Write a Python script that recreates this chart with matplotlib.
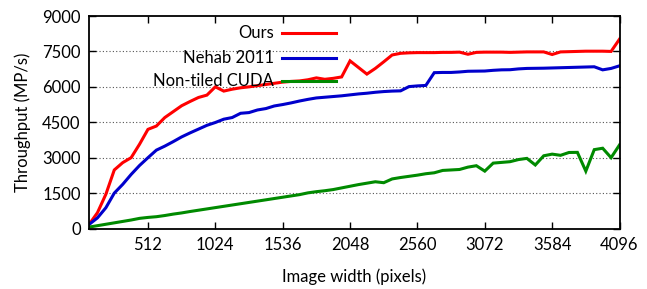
import matplotlib
matplotlib.use('Agg')
import matplotlib.pyplot as plt
import numpy as np

plt.rcParams['font.family'] = ['Lato', 'DejaVu Sans']

# image widths (pixels)
widths = list(range(64, 4097, 64))

ours = [170, 670, 1450, 2480, 2790, 3000, 3570, 4200, 4340, 4700,
        4950, 5200, 5380, 5550, 5650, 6000, 5820, 5900, 5960, 6000,
        6050, 6100, 6150, 6200, 6230, 6250, 6300, 6380, 6320, 6360,
        6420, 7100, 6820, 6540, 6780, 7060, 7350, 7420, 7440, 7450,
        7450, 7450, 7460, 7460, 7470, 7380, 7460, 7470, 7470, 7470,
        7460, 7470, 7480, 7480, 7480, 7370, 7480, 7490, 7500, 7510,
        7510, 7510, 7500, 8020]

nehab = [170, 450, 880, 1500, 1870, 2290, 2670, 3000, 3320, 3490,
         3680, 3880, 4050, 4210, 4370, 4490, 4630, 4700, 4880, 4910,
         5020, 5080, 5190, 5250, 5320, 5400, 5470, 5530, 5560, 5590,
         5620, 5660, 5700, 5730, 5770, 5800, 5820, 5830, 6010, 6040,
         6060, 6600, 6610, 6610, 6630, 6660, 6665, 6670, 6700, 6720,
         6725, 6760, 6780, 6785, 6790, 6800, 6810, 6820, 6830, 6840,
         6850, 6720, 6780, 6890]

nontiled = [60, 120, 180, 240, 300, 360, 430, 470, 500, 550,
            610, 660, 720, 775, 830, 885, 940, 995, 1050, 1105,
            1160, 1215, 1270, 1325, 1380, 1435, 1510, 1560, 1600, 1650,
            1720, 1790, 1860, 1920, 1980, 1940, 2100, 2160, 2210, 2260,
            2320, 2360, 2460, 2480, 2500, 2600, 2660, 2430, 2770, 2800,
            2830, 2920, 2970, 2690, 3080, 3150, 3100, 3220, 3225, 2430,
            3340, 3400, 3000, 3540]

labels = ['Ours', 'Nehab 2011', 'Non-tiled CUDA']
colors = ['#ff0000', '#0000cc', '#008a00']
xticks = [512, 1024, 1536, 2048, 2560, 3072, 3584, 4096]
yticks = [0, 1500, 3000, 4500, 6000, 7500, 9000]

fig = plt.figure(figsize=(6.47, 2.89), dpi=100, facecolor='w')
ax = fig.add_axes([0.1376, 0.2093, 0.8199, 0.7353])

for ys, c in zip([ours, nehab, nontiled], colors):
    ax.plot(widths, ys, color=c, lw=2.2, solid_joinstyle='miter')

ax.set_xlim(64, 4096)
ax.set_ylim(0, 9000)
ax.set_xticks(xticks)
ax.set_yticks(yticks)
ax.tick_params(direction='in', top=True, right=True, length=5, width=1,
               labelsize=12, pad=6)
for s in ax.spines.values():
    s.set_linewidth(1.3)

for y in yticks[1:-1]:
    ax.axhline(y, color='#555555', lw=0.8, ls=(0, (1, 2)), zorder=0)

ax.set_xlabel('Image width (pixels)', fontsize=12, labelpad=11)
ax.set_ylabel('Throughput (MP/s)', fontsize=12, labelpad=8)

# gnuplot-style key: text on the left, line on the right
key_y = [0.92, 0.802, 0.694]
for l, c, ky in zip(labels, colors, key_y):
    ax.text(0.348, ky, l, transform=ax.transAxes, ha='right', va='center',
            fontsize=12, zorder=5)
    ax.plot([0.364, 0.466], [ky, ky], transform=ax.transAxes, color=c,
            lw=2.2, clip_on=False, zorder=5)

fig.savefig('out.png', dpi=100, facecolor='w')
